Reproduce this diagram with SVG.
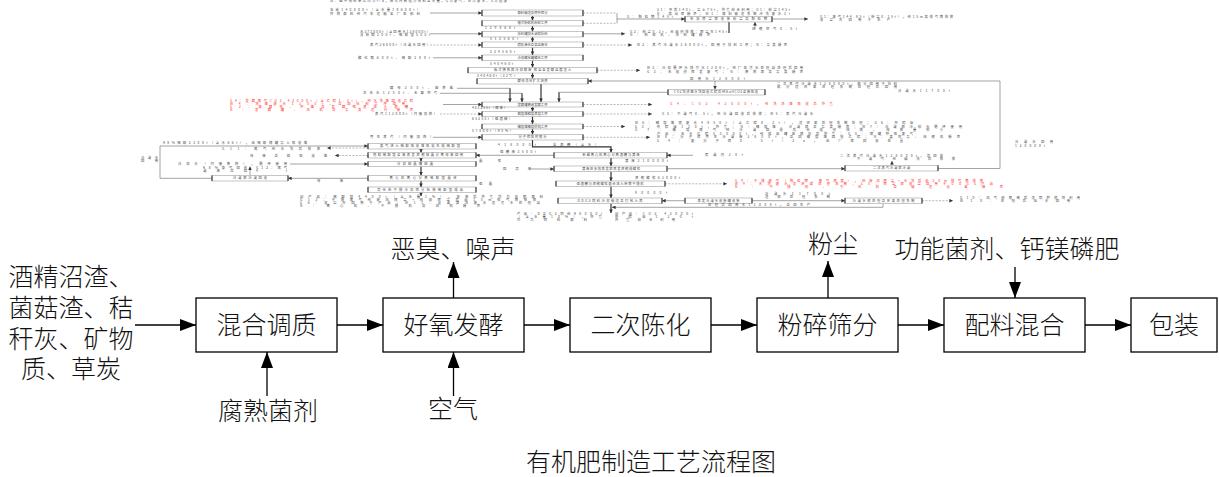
<svg xmlns="http://www.w3.org/2000/svg" width="1219" height="477" viewBox="0 0 1219 477">
<defs>
  <marker id="ah" viewBox="0 0 6 6" refX="6" refY="3" markerWidth="4" markerHeight="3.6" markerUnits="userSpaceOnUse" orient="auto"><path d="M0,0L6,3L0,6z" fill="#333"/></marker>
  <marker id="AH" viewBox="0 0 16 12" refX="16" refY="6" markerWidth="16" markerHeight="12" markerUnits="userSpaceOnUse" orient="auto"><path d="M0,0L16,6L0,12z" fill="#000"/></marker>
</defs>
<style>
  .s{font-family:"Noto Sans CJK SC","Noto Sans",sans-serif;font-size:3.3px;fill:#4a4a4a}
  .c{text-anchor:middle}
  .red{fill:#ff2a2a}
  .bx{fill:#fff;stroke:#a0a0a0;stroke-width:0.6}
  .sd{stroke:#333;stroke-width:1.1;fill:none}
  .ln{stroke:#666;stroke-width:0.6;fill:none}
  .dl{stroke:#8a8a8a;stroke-width:0.6;stroke-dasharray:2 1.4;fill:none}
  .mv{stroke:#333;stroke-width:1.2;fill:none}
  .L{font-family:"Noto Sans CJK SC",sans-serif;font-size:25px;font-weight:300;fill:#111}
  .bb{fill:#fff;stroke:#000;stroke-width:1.3}
  .bl{stroke:#000;stroke-width:1.3;fill:none}
</style>
<rect width="1219" height="477" fill="#fff"/>

<!-- ===== detailed process chart (upper) ===== -->
<g id="upper-connectors">
  <g class="mv" marker-end="url(#ah)">
    <path d="M532.5 16V20.5"/><path d="M532.5 26V31.5"/><path d="M532.5 37V42"/><path d="M532.5 47.5V55"/>
    <path d="M532.5 60.5V67.5"/><path d="M532.5 73V78.5"/><path d="M541 84V102"/>
    <path d="M510 88.3V102"/><path d="M522 93.3V102"/><path d="M559 92.3V102"/>
    <path d="M532.5 107V111.5"/><path d="M532.5 116.5V124"/><path d="M532.5 129V134.5"/>
    <path d="M611 158V166"/><path d="M611 171.5V181"/><path d="M611 186.5V198"/><path d="M611 203.5V213"/>
    <path d="M421 149V152.5"/><path d="M421 158V161.5"/><path d="M421 166.5V175.5"/><path d="M421 181V187"/><path d="M421 192.5V196"/>
  </g>
  <path class="mv" d="M532.5 140V146.9H611V152.5" marker-end="url(#ah)"/>
  <path class="mv" d="M729 22V33"/>
  <g class="ln" marker-end="url(#ah)">
    <path d="M430 13H482"/><path d="M617 19H685"/><path d="M772 19H808"/><path d="M755 29V22"/>
    <path d="M430 33.8H482"/><path d="M583 33.8H625"/><path d="M433 57.8H482"/>
    <path d="M1000 168.5V81H588"/><path d="M715 81V89.5"/>
    <path d="M443 104.5H482"/><path d="M433 137.3H482"/>
    <path d="M693 155.3H667"/><path d="M554 155.3H476"/><path d="M531 169H554"/><path d="M667 168.7H845"/>
    <path d="M892 165.5V161"/><path d="M685 200.7H662"/><path d="M752 200.7H845"/><path d="M883 203.5V207.3H612"/>
    <path d="M212 178.3H160V146H368"/><path d="M290 164H368"/><path d="M250 175.5V166.5"/><path d="M368 178.3H288"/>
  </g>
  <g class="ln">
    <path d="M617 13V23.3"/><path d="M938 168.5H1000"/><path d="M668 92.3H559"/>
    <path d="M457 88.3H510"/><path d="M440 93.3H522"/>
  </g>
  <g class="dl">
    <path d="M583 13H617"/><path d="M583 23.3H617"/>
  </g>
  <g class="dl" marker-end="url(#ah)">
    <path d="M430 45H482"/><path d="M583 45H632"/><path d="M597 70.3H640"/>
    <path d="M583 104.5H652"/><path d="M440 114H482"/><path d="M583 114H652"/>
    <path d="M583 126.5H625"/><path d="M583 137.3H650"/><path d="M665 183.8H727"/>
    <path d="M922 200.7H953"/><path d="M368 148H327"/><path d="M368 155.5H335"/>
  </g>
</g>

<g id="upper-nodes">
  <g id="u-b1"><rect class="bx" x="482" y="10" width="101" height="6"/><path class="sd" d="M482 10V16M583 10V16"/><text class="s c" x="532.5" y="14.2" textLength="30">原料输送及除杂筛分</text></g>
  <g id="u-b2"><rect class="bx" x="482" y="20.5" width="101" height="5.5"/><path class="sd" d="M482 20.5V26M583 20.5V26"/><text class="s c" x="532.5" y="24.4" textLength="30">锤式粉碎机粉碎工序</text></g>
  <g id="u-b3"><rect class="bx" x="482" y="31.5" width="101" height="5.5"/><path class="sd" d="M482 31.5V37M583 31.5V37"/><text class="s c" x="532.5" y="35.4" textLength="30">拌料罐加水调浆拌料</text></g>
  <g id="u-b4"><rect class="bx" x="482" y="42" width="101" height="5.5"/><path class="sd" d="M482 42V47.5M583 42V47.5"/><text class="s c" x="532.5" y="45.9" textLength="30">喷射液化及高温液化</text></g>
  <g id="u-b5"><rect class="bx" x="482" y="55" width="101" height="5.5"/><path class="sd" d="M482 55V60.5M583 55V60.5"/><text class="s c" x="532.5" y="58.9" textLength="30">冷却糖化罐糖化工序</text></g>
  <g id="u-b6"><rect class="bx" x="468" y="67.5" width="129" height="5.5"/><path class="sd" d="M468 67.5V73M597 67.5V73"/><text class="s c" x="532.5" y="71.4" textLength="77">板式换热器冷却醪液   降温至发酵温度送入</text></g>
  <g id="u-b7"><rect class="bx" x="477" y="78.5" width="111" height="5.5"/><path class="sd" d="M477 78.5V84M588 78.5V84"/><text class="s c" x="532.5" y="82.4" textLength="30">酵母活化扩大培养</text></g>
  <g id="u-b8"><rect class="bx" x="482" y="102" width="101" height="5"/><path class="sd" d="M482 102V107M583 102V107"/><text class="s c" x="532.5" y="105.7" textLength="30">发酵罐密闭发酵工序</text></g>
  <g id="u-b9"><rect class="bx" x="482" y="111.5" width="101" height="5"/><path class="sd" d="M482 111.5V116.5M583 111.5V116.5"/><text class="s c" x="532.5" y="115.2" textLength="30">粗馏塔粗馏蒸馏工序</text></g>
  <g id="u-b10"><rect class="bx" x="482" y="124" width="101" height="5"/><path class="sd" d="M482 124V129M583 124V129"/><text class="s c" x="532.5" y="127.7" textLength="30">精馏塔精馏提纯工序</text></g>
  <g id="u-b11"><rect class="bx" x="482" y="134.5" width="101" height="5.5"/><path class="sd" d="M482 134.5V140M583 134.5V140"/><text class="s c" x="532.5" y="138.4" textLength="28">分子筛吸附脱水</text></g>
  <g id="u-b12"><rect class="bx" x="554" y="152.5" width="113" height="5.5"/><path class="sd" d="M554 152.5V158M667 152.5V158"/><text class="s c" x="611" y="156.4" textLength="57">卧螺离心机离心分离酒糟与清液</text></g>
  <g id="u-b13"><rect class="bx" x="554" y="166" width="113" height="5.5"/><path class="sd" d="M554 166V171.5M667 166V171.5"/><text class="s c" x="611" y="169.9" textLength="58">清液进多效蒸发器蒸发浓缩成糖浆</text></g>
  <g id="u-b14"><rect class="bx" x="556" y="181" width="109" height="5.5"/><path class="sd" d="M556 181V186.5M665 181V186.5"/><text class="s c" x="610" y="184.9" textLength="67">湿酒糟与浓缩糖浆混合进入转筒干燥机</text></g>
  <g id="u-b15"><rect class="bx" x="558" y="198" width="104" height="5.5"/><path class="sd" d="M558 198V203.5M662 198V203.5"/><text class="s c" x="610" y="201.9" textLength="65">DDGS饲料冷却输送及打包入库</text></g>
  <g id="u-b16"><rect class="bx" x="685" y="198" width="67" height="5.5"/><path class="sd" d="M685 198V203.5M752 198V203.5"/><text class="s c" x="718.5" y="201.9" textLength="42">蒸发冷凝水收集罐收集</text></g>
  <g id="u-b17"><rect class="bx" x="845" y="198" width="77" height="5.5"/><path class="sd" d="M845 198V203.5M922 198V203.5"/><text class="s c" x="883.5" y="201.9" textLength="62">冷凝水预处理及厌氧处理系统</text></g>
  <g id="u-r1"><rect class="bx" x="845" y="165.5" width="93" height="5.5"/><path class="sd" d="M845 165.5V171M938 165.5V171"/><text class="s c" x="891.5" y="169.4" textLength="37">二次蒸汽冷凝器冷凝</text></g>
  <g id="u-n"><rect class="bx" x="668" y="89.5" width="97" height="5.5"/><path class="sd" d="M668 89.5V95M765 89.5V95"/><text class="s c" x="716" y="93.4" textLength="84">CO2洗涤塔水洗回收乙醇后经NaHCO3溶液吸收</text></g>
  <g id="u-d"><rect class="bx" x="685" y="16.5" width="87" height="5.5"/><path class="sd" d="M685 16.5V22M772 16.5V22"/><text class="s c" x="728.5" y="20.4" textLength="77">布袋除尘器收集粉尘及颗粒物</text></g>
  <g id="u-l1"><rect class="bx" x="368" y="143.5" width="108" height="5.5"/><path class="sd" d="M368 143.5V149M476 143.5V149"/><text class="s c" x="420" y="147.4" textLength="80">氨气进入硫酸吸收塔吸收生成硫酸铵</text></g>
  <g id="u-l2"><rect class="bx" x="368" y="152.5" width="108" height="5.5"/><path class="sd" d="M368 152.5V158M476 152.5V158"/><text class="s c" x="418" y="156.4" textLength="90">饱和硫酸铵溶液蒸发浓缩结晶分离母液回用</text></g>
  <g id="u-l3"><rect class="bx" x="368" y="161.5" width="108" height="5"/><path class="sd" d="M368 161.5V166.5M476 161.5V166.5"/><text class="s c" x="415" y="165.2" textLength="36">冷却结晶槽结晶</text></g>
  <g id="u-l4"><rect class="bx" x="368" y="175.5" width="108" height="5.5"/><path class="sd" d="M368 175.5V181M476 175.5V181"/><text class="s c" x="423" y="179.4" textLength="67">离心机离心分离硫酸铵晶体</text></g>
  <g id="u-l5"><rect class="bx" x="368" y="187" width="108" height="5.5"/><path class="sd" d="M368 187V192.5M476 187V192.5"/><text class="s c" x="420" y="190.9" textLength="86">流化床干燥冷却筛分包装硫酸铵成品</text></g>
  <g id="u-f"><rect class="bx" x="212" y="175.5" width="76" height="5.5"/><path class="sd" d="M212 175.5V181M288 175.5V181"/><text class="s c" x="250" y="179.4" textLength="34">冷凝器冷凝回收</text></g>
</g>

<g id="upper-labels" class="s">
  <text x="330" y="2.2" textLength="177">注：图中物料单位均为t/a，括号内数值为物料含水量，G为废气、W为废水、S为固废</text>
  <text x="330" y="11" textLength="90">玉米140000t（含水量19600t）</text>
  <text x="330" y="14.5" textLength="90">外购原料经汽车运输至厂区卸料</text>
  <text x="657" y="11" textLength="133">S1：杂质140t、尘土75t，外售综合利用；G1：粉尘145t</text>
  <text x="657" y="14.5" textLength="133">N：振动筛噪声；W1：原料输送系统冲洗废水3t</text>
  <text x="627" y="17.6" textLength="46">G：颗粒物145t</text>
  <text x="820" y="18" textLength="133">G1：废气144.85t（粉尘0.15t），经15m高排气筒排放</text>
  <text x="820" y="21.3" textLength="70">收尘灰回用于生产</text>
  <text x="752" y="30.3" textLength="45">压缩空气0.5t</text>
  <text x="485" y="29.4" textLength="30">139860t</text>
  <text x="360" y="33" textLength="70">水373000t（含回用水128000t）</text>
  <text x="360" y="36.3" textLength="70">淀粉酶200t、硫酸铵500t</text>
  <text x="630" y="33" textLength="97">G2：粉尘0.2t，无组织排放；除尘灰145t</text>
  <text x="630" y="36.3" textLength="80">N：粉碎机、拌料罐噪声</text>
  <text x="490" y="40.3" textLength="28">513560t</text>
  <text x="370" y="46" textLength="60">蒸汽26000t（冷凝水回用）</text>
  <text x="637" y="46" textLength="150">W2：蒸汽冷凝水26000t，回用于拌料工序；N：泵类噪声</text>
  <text x="490" y="52.5" textLength="25">539560t</text>
  <text x="358" y="58.7" textLength="72">糖化酶600t、硫酸300t</text>
  <text x="490" y="64.8" textLength="23">540460t</text>
  <text x="647" y="69" textLength="156">W3：冷却循环水排污水1200t，经厂区污水处理站处理后回用</text>
  <text x="647" y="72.5" textLength="156">G3：无组织挥发废气；N：换热器及泵类噪声</text>
  <text x="477" y="77" textLength="40">540460t（32℃）</text>
  <text x="690" y="79.6" textLength="55">回用水12800t</text>
  <text x="777" y="85" textLength="120">二次蒸汽冷凝水128000t，部分回用于拌料</text>
  <text x="777" y="88.4" textLength="120">部分送厌氧处理系统处理后回用</text>
  <text x="898" y="91.5" textLength="52">冷凝水11700t</text>
  <text x="390" y="88.5" textLength="63">酵母300t、营养盐</text>
  <text x="363" y="94" textLength="74">活化水1250t、无菌空气</text>
  <g class="red">
    <text x="230" y="101.5" textLength="183">G4：发酵尾气CO2 43000t（含乙醇1.3t），经水洗塔回收乙醇</text>
    <text x="230" y="104.8" textLength="175">W4：洗塔废水1200t，返回拌料工序回用</text>
    <text x="230" y="108" textLength="178">S2：废酵母、杂菌及发酵残渣进入酒糟</text>
    <text x="230" y="111.2" textLength="183">N：发酵罐、风机及泵类运行噪声</text>
    <text x="670" y="105.3" textLength="163">G4：CO2 43000t，经洗涤塔吸收后外售</text>
  </g>
  <text x="472" y="109.3" textLength="35">483255t（醪液）</text>
  <text x="375" y="115" textLength="62">蒸汽112000t（间接加热）</text>
  <text x="662" y="115.3" textLength="151">G5：不凝气0.5t，经冷凝回收后排放；W5：蒸汽冷凝水</text>
  <text x="472" y="120.3" textLength="40">65255t（粗酒精）</text>
  <text x="635" y="124.3" textLength="278">W6：精馏塔底废水4850t（含乙醇0.3t），送厌氧处理系统处理；G6：杂醇油</text>
  <text x="635" y="127.6" textLength="327">S3：杂醇油120t，外售；N：精馏塔、冷凝器及泵类噪声；W7：冷凝器冷却水循环使用</text>
  <text x="635" y="131" textLength="308">G7：精馏尾气经冷凝回收后无组织排放，排放量较小</text>
  <text x="472" y="132" textLength="41">57800t（95%）</text>
  <text x="370" y="138" textLength="63">再生蒸汽（间接加热）</text>
  <text x="657" y="135" textLength="256">产品：无水乙醇55000t，经成品罐区储存后外售；G8：储罐呼吸废气</text>
  <text x="657" y="138.3" textLength="303">W8：分子筛再生冷凝液2800t，返回精馏塔回收乙醇；N：真空泵、压缩机噪声</text>
  <text x="657" y="141.6" textLength="246">S4：废分子筛0.5t/3a，由厂家回收处置</text>
  <text x="498" y="145.5" textLength="38">418000t</text>
  <text x="553" y="145.5" textLength="45">全酒糟（含水）</text>
  <text x="705" y="156" textLength="38">絮凝剂20t</text>
  <text x="500" y="153" textLength="36">湿糟液3500t</text>
  <text x="625" y="161.5" textLength="43">清液310000t</text>
  <text x="503" y="170" textLength="28">回流液</text>
  <text x="840" y="156.5" textLength="103">二次蒸汽冷凝水128000t，送回收</text>
  <text x="857" y="160" textLength="98">不凝气经碱洗后排放</text>
  <text x="1015" y="143.2" textLength="38">冷凝水回用</text>
  <text x="1015" y="146.6" textLength="30">128000t</text>
  <text x="635" y="178.5" textLength="45">浓缩糖浆62000t</text>
  <g class="red">
    <text x="735" y="182" textLength="248">G9：干燥废气（颗粒物、臭气浓度），经旋风除尘+水洗后由30m排气筒排放</text>
    <text x="735" y="185" textLength="258">W9：水洗废水送厌氧处理系统；S5：除尘器收尘回用于DDGS产品</text>
    <text x="735" y="188" textLength="268">N：干燥机、引风机及输送设备噪声</text>
  </g>
  <text x="635" y="193.5" textLength="32">90000t</text>
  <text x="765" y="195.2" textLength="65">冷凝水11700t</text>
  <text x="765" y="198.2" textLength="65">送预处理系统</text>
  <text x="960" y="198.6" textLength="120">G10：沼气经脱硫后送锅炉燃烧利用</text>
  <text x="960" y="201.6" textLength="110">W10：处理后出水回用</text>
  <text x="708" y="206.3" textLength="102">处理后回用水11000t，返回生产</text>
  <text x="517" y="214.5" textLength="85">产品：DDGS饲料90000t</text>
  <text x="517" y="217.5" textLength="85">（含水量10%），外售</text>
  <text x="517" y="220.5" textLength="70">作为饲料原料</text>
  <text x="615" y="214.5" textLength="78">副产品：CO2 43000t</text>
  <text x="615" y="217.5" textLength="78">杂醇油120t</text>
  <text x="615" y="220.5" textLength="60">外售综合利用</text>
  <text x="163" y="144.3" textLength="144">98%硫酸3300t（含水66t），由硫酸储罐泵入吸收塔</text>
  <text x="222" y="150.3" textLength="98">G11：尾气经水洗后排放</text>
  <text x="250" y="156.8" textLength="77">母液返回吸收塔</text>
  <text x="178" y="165" textLength="109">冷却水（间接换热），循环使用</text>
  <text x="203" y="168.8" textLength="44">98%氨气回收</text>
  <text x="203" y="172" textLength="44">凝液返回</text>
  <text x="256" y="168.8" textLength="31">G12：尾气</text>
  <text x="256" y="172" textLength="31">4t</text>
  <text x="317" y="182.3" textLength="26">母液</text>
  <text x="479" y="161.5" textLength="22">晶浆</text>
  <text x="479" y="184.6" textLength="13">湿晶</text>
  <text x="300" y="198" textLength="243">副产品：硫酸铵4400t（含水量1%），袋装后外售作为化肥原料</text>
  <text x="300" y="201" textLength="236">G13：干燥尾气经旋风除尘+布袋除尘后由15m排气筒排放</text>
  <text x="300" y="204" textLength="240">S6：收尘灰回用于产品；W11：设备清洗废水送污水处理站</text>
  <text x="300" y="207" textLength="180">N：离心机、干燥机及风机噪声</text>
  <text x="141" y="158.5" textLength="17">冷凝水</text>
  <text x="141" y="161.8" textLength="17">回用</text>
</g>

<!-- ===== organic fertilizer flow (lower) ===== -->
<g id="connectors">
  <g class="bl" marker-end="url(#AH)">
    <path d="M135 325H196"/>
    <path d="M337 325H383"/>
    <path d="M524 325H570"/>
    <path d="M711 325H757"/>
    <path d="M898 325H944"/>
    <path d="M1085 325H1131"/>
    <path d="M453.5 298V262"/>
    <path d="M828 298V261"/>
    <path d="M1015 267V298"/>
    <path d="M267 396V352"/>
    <path d="M453.5 396V352"/>
  </g>
</g>

<g id="n-raw"><text class="L c" font-size="23.5"><tspan x="71" y="286">酒精沼渣、</tspan><tspan x="71" y="317">菌菇渣、秸</tspan><tspan x="71" y="348">秆灰、矿物</tspan><tspan x="71" y="378">质、草炭</tspan></text></g>
<g id="n-mix"><rect class="bb" x="196" y="298" width="141" height="54"/><text class="L c" x="266.5" y="334">混合调质</text></g>
<g id="n-ferment"><rect class="bb" x="383" y="298" width="141" height="54"/><text class="L c" x="453.5" y="334">好氧发酵</text></g>
<g id="n-age"><rect class="bb" x="570" y="298" width="141" height="54"/><text class="L c" x="640.5" y="334">二次陈化</text></g>
<g id="n-crush"><rect class="bb" x="757" y="298" width="141" height="54"/><text class="L c" x="827.5" y="334">粉碎筛分</text></g>
<g id="n-blend"><rect class="bb" x="944" y="298" width="141" height="54"/><text class="L c" x="1014.5" y="334">配料混合</text></g>
<g id="n-pack"><rect class="bb" x="1131" y="298" width="86" height="54"/><text class="L c" x="1174" y="334">包装</text></g>
<g id="n-odor"><text class="L c" x="453" y="258">恶臭、噪声</text></g>
<g id="n-dust"><text class="L c" x="833" y="253">粉尘</text></g>
<g id="n-additive"><text class="L c" x="1007" y="258">功能菌剂、钙镁磷肥</text></g>
<g id="n-inoculant"><text class="L c" x="268" y="420">腐熟菌剂</text></g>
<g id="n-air"><text class="L c" x="453" y="418">空气</text></g>
<g id="title"><text class="L c" x="651" y="471">有机肥制造工艺流程图</text></g>
</svg>
